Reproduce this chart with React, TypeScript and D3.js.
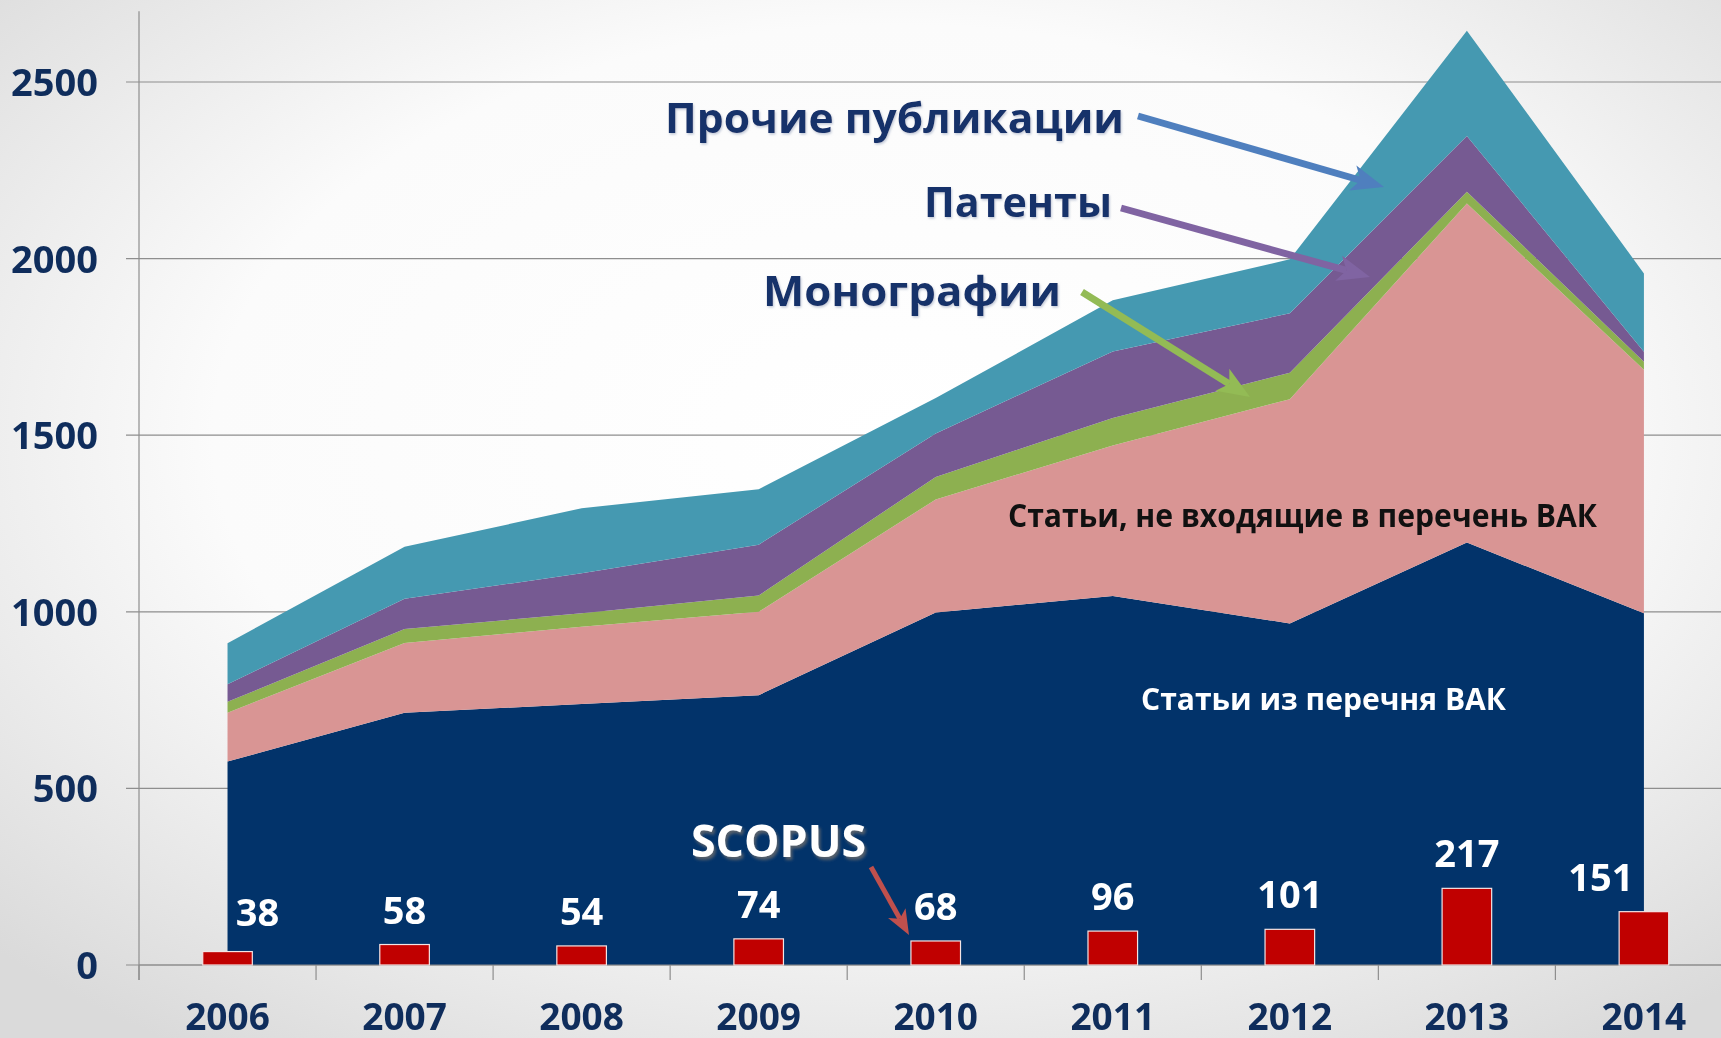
import React from 'react';
import * as d3 from 'd3';

const years = ['2006', '2007', '2008', '2009', '2010', '2011', '2012', '2013', '2014'];
const vakArticles = [576, 714, 739, 764, 998, 1045, 967, 1196, 996];
const nonVakArticles = [138, 198, 219, 236, 320, 426, 635, 960, 689];
const monographs = [31, 39, 38, 46, 64, 78, 75, 33, 23];
const patents = [50, 86, 113, 144, 123, 188, 168, 158, 28];
const otherPubs = [116, 147, 184, 157, 100, 145, 153, 298, 222];
const scopus = [38, 58, 54, 74, 68, 96, 101, 217, 151];
const yTicks = [0, 500, 1000, 1500, 2000, 2500];
const seriesKeys = ['vak', 'nonVak', 'mono', 'patents', 'other'];
const seriesColors = ['#02336A', '#D99594', '#8DB050', '#765A92', '#4599B1'];
const scopusLabelDx = [30, 0, 0, 0, 0, 0, 0, 0, -43];
const scopusLabelDy = [-5, 0, 0, 0, 0, 0, 0, 0, 0];

const W = 1721;
const H = 1038;
const FONT = "'Open Sans', 'Noto Sans', sans-serif";

function Arrow({ x1, y1, x2, y2, color, width, head }: any) {
  const ang = Math.atan2(y2 - y1, x2 - x1);
  const L = head * 1.25;
  const hw = head * 0.5;
  const bx = x2 - L * Math.cos(ang);
  const by = y2 - L * Math.sin(ang);
  const nx = -Math.sin(ang);
  const ny = Math.cos(ang);
  const nbx = x2 - L * 0.75 * Math.cos(ang);
  const nby = y2 - L * 0.75 * Math.sin(ang);
  const pts = [
    [x2, y2],
    [bx + nx * hw, by + ny * hw],
    [nbx, nby],
    [bx - nx * hw, by - ny * hw],
  ];
  return (
    <g>
      <line x1={x1} y1={y1} x2={nbx} y2={nby} stroke={color} strokeWidth={width} />
      <polygon points={pts.map((p) => p.join(',')).join(' ')} fill={color} />
    </g>
  );
}

export default function App() {
  const x = d3.scaleBand<string>().domain(years).range([139, 139 + 177.05 * years.length]).padding(0);
  const y = d3.scaleLinear().domain([0, 2500]).range([965, 82]);
  const cx = (yr: string) => (x(yr) as number) + x.bandwidth() / 2;

  const table = years.map((yr, i) => ({
    year: yr,
    vak: vakArticles[i],
    nonVak: nonVakArticles[i],
    mono: monographs[i],
    patents: patents[i],
    other: otherPubs[i],
  }));
  const stacked = d3.stack<any>().keys(seriesKeys)(table);
  const area = d3
    .area<any>()
    .x((d) => cx(d.data.year))
    .y0((d) => y(d[0]))
    .y1((d) => y(d[1]))
    .curve(d3.curveLinear);

  const barW = x.bandwidth() * 0.28;
  const boundaries = years.map((yr) => x(yr) as number).concat([(x(years[years.length - 1]) as number) + x.bandwidth()]);

  return (
    <svg
      width={W}
      height={H}
      viewBox={`0 0 ${W} ${H}`}
      style={{ position: 'fixed', left: 0, top: 0, display: 'block' }}
      fontFamily={FONT}
    >
      <defs>
        <radialGradient id="bg" cx="52%" cy="42%" r="72%">
          <stop offset="0%" stopColor="#FFFFFF" />
          <stop offset="55%" stopColor="#FBFBFB" />
          <stop offset="100%" stopColor="#DADADA" />
        </radialGradient>
        <filter id="shadow" x="-10%" y="-10%" width="130%" height="140%">
          <feDropShadow dx="2" dy="3" stdDeviation="1.5" floodColor="#6a6a6a" floodOpacity="0.8" />
        </filter>
        <filter id="soft" x="-5%" y="-10%" width="110%" height="130%">
          <feDropShadow dx="1" dy="1.5" stdDeviation="1" floodColor="#9aa6c0" floodOpacity="0.6" />
        </filter>
      </defs>
      <rect x={0} y={0} width={W} height={H} fill="url(#bg)" />

      {/* gridlines */}
      {yTicks.map((t) => (
        <line key={t} x1={126} x2={W} y1={y(t)} y2={y(t)} stroke="#8E8E8E" strokeWidth={1.2} />
      ))}

      {/* stacked areas */}
      {stacked.map((s, i) => (
        <path key={s.key} d={area(s) as string} fill={seriesColors[i]} />
      ))}

      {/* axes */}
      <line x1={139} x2={139} y1={y(2700)} y2={980} stroke="#8E8E8E" strokeWidth={1.2} />
      <line x1={139} x2={W} y1={y(0)} y2={y(0)} stroke="#8E8E8E" strokeWidth={1.2} />
      {boundaries.map((b, i) => (
        <line key={i} x1={b} x2={b} y1={y(0)} y2={980} stroke="#8E8E8E" strokeWidth={1.2} />
      ))}

      {/* SCOPUS bars */}
      {years.map((yr, i) => (
        <rect
          key={yr}
          x={cx(yr) - barW / 2}
          y={y(scopus[i])}
          width={barW}
          height={y(0) - y(scopus[i])}
          fill="#C00000"
          stroke="#F4E4E4"
          strokeWidth={1.2}
        />
      ))}
      {years.map((yr, i) => (
        <text
          key={'l' + yr}
          x={cx(yr) + scopusLabelDx[i]}
          y={y(scopus[i]) - 21 + scopusLabelDy[i]}
          textAnchor="middle"
          fontSize={38}
          fontWeight={700}
          fill="#FFFFFF"
        >
          {scopus[i]}
        </text>
      ))}

      {/* y tick labels */}
      {yTicks.map((t) => (
        <text key={'y' + t} x={98} y={y(t) + 14} textAnchor="end" fontSize={38} fontWeight={700} fill="#0F2D5C">
          {t}
        </text>
      ))}

      {/* x tick labels */}
      {years.map((yr) => (
        <text key={'x' + yr} x={cx(yr)} y={1030} textAnchor="middle" fontSize={37} fontWeight={700} fill="#0F2D5C">
          {yr}
        </text>
      ))}

      {/* in-area labels */}
      <text x={1008} y={527} fontSize={32} fontWeight={700} fill="#111111" textLength={589} lengthAdjust="spacingAndGlyphs">
        Статьи, не входящие в перечень ВАК
      </text>
      <text x={1141} y={710} fontSize={31} fontWeight={700} fill="#FFFFFF" textLength={365} lengthAdjust="spacingAndGlyphs">
        Статьи из перечня ВАК
      </text>

      {/* annotations */}
      <g filter="url(#soft)">
        <text x={665} y={133} fontSize={42} fontWeight={700} fill="#13306A" textLength={459} lengthAdjust="spacingAndGlyphs">
          Прочие публикации
        </text>
        <text x={924} y={217} fontSize={42} fontWeight={700} fill="#13306A" textLength={188} lengthAdjust="spacingAndGlyphs">
          Патенты
        </text>
        <text x={763} y={306} fontSize={42} fontWeight={700} fill="#13306A" textLength={298} lengthAdjust="spacingAndGlyphs">
          Монографии
        </text>
      </g>
      <Arrow x1={1138} y1={116} x2={1384} y2={187} color="#4F7FBE" width={7} head={26} />
      <Arrow x1={1121} y1={208} x2={1370} y2={277} color="#8064A2" width={7} head={26} />
      <Arrow x1={1082} y1={292} x2={1250} y2={397} color="#93BB55" width={7} head={26} />

      <text x={691} y={857} fontSize={44} fontWeight={700} fill="#FFFFFF" filter="url(#shadow)" textLength={175} lengthAdjust="spacingAndGlyphs">
        SCOPUS
      </text>
      <Arrow x1={871} y1={867} x2={909} y2={935} color="#C0504D" width={5} head={20} />
    </svg>
  );
}
